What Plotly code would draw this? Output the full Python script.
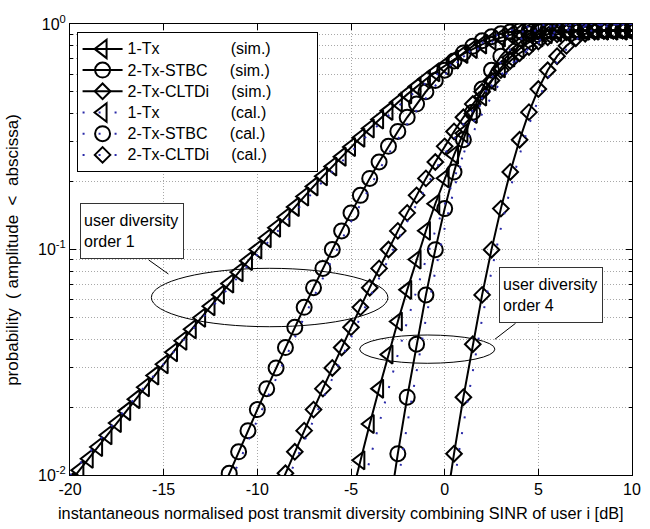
import plotly.graph_objects as go

# ---------------- data ----------------
# user diversity order 1, 1-Tx
x_o1_1tx = [-20.0, -19.5, -19.0, -18.5, -18.0, -17.5, -17.0, -16.5, -16.0, -15.5,
            -15.0, -14.5, -14.0, -13.5, -13.0, -12.5, -12.0, -11.5, -11.0, -10.5,
            -10.0, -9.5, -9.0, -8.5, -8.0, -7.5, -7.0, -6.5, -6.0, -5.5,
            -5.0, -4.5, -4.0, -3.5, -3.0, -2.5, -2.0, -1.5, -1.0, -0.5,
            0.0, 0.5, 1.0, 1.5, 2.0, 2.5, 3.0, 3.5, 4.0, 4.5,
            5.0, 5.5, 6.0, 6.5, 7.0, 7.5, 8.0, 8.5, 9.0, 9.5, 10.0]
sim_o1_1tx = [0.0093, 0.0105, 0.0118, 0.0133, 0.015, 0.017, 0.0192, 0.0217, 0.0245, 0.0276,
              0.031, 0.035, 0.0394, 0.0443, 0.0498, 0.056, 0.063, 0.0707, 0.0793, 0.089,
              0.1, 0.1121, 0.1248, 0.139, 0.1545, 0.1717, 0.1905, 0.2111, 0.2336, 0.2581,
              0.2847, 0.3133, 0.3441, 0.377, 0.4119, 0.4488, 0.4874, 0.5276, 0.5689, 0.611,
              0.6533, 0.6953, 0.7365, 0.7755, 0.812, 0.845, 0.872, 0.895, 0.915, 0.927,
              0.933, 0.935, 0.935, 0.935, 0.935, 0.935, 0.935, 0.935, 0.935, 0.935, 0.935]
cal_o1_1tx = [0.00995, 0.01116, 0.01251, 0.01403, 0.01572, 0.01762, 0.01975, 0.02214, 0.02481, 0.02779,
              0.03113, 0.03486, 0.03903, 0.04369, 0.04888, 0.05468, 0.06115, 0.06834, 0.07635, 0.08527,
              0.09516, 0.1061, 0.1183, 0.1318, 0.1466, 0.1629, 0.1809, 0.2006, 0.2222, 0.2456,
              0.2711, 0.2987, 0.3284, 0.3602, 0.3942, 0.4301, 0.4679, 0.5073, 0.5481, 0.5899,
              0.6321, 0.6744, 0.7161, 0.7566, 0.795, 0.831, 0.864, 0.8934, 0.9189, 0.9403,
              0.9577, 0.9712, 0.9813, 0.9885, 0.9933, 0.9964, 0.9982, 0.9992, 0.9997, 0.9999, 0.99995]

# user diversity order 1, 2-Tx-STBC
x_o1_stbc = [-12.5, -12.0, -11.5, -11.0, -10.5, -10.0, -9.5, -9.0, -8.5, -8.0,
             -7.5, -7.0, -6.5, -6.0, -5.5, -5.0, -4.5, -4.0, -3.5, -3.0,
             -2.5, -2.0, -1.5, -1.0, -0.5, 0.0, 0.5, 1.0, 1.5, 2.0,
             2.5, 3.0, 3.5, 4.0, 4.5, 5.0, 5.5, 6.0, 6.5, 7.0,
             7.5, 8.0, 8.5, 9.0, 9.5, 10.0]
sim_o1_stbc = [0.00655, 0.00817, 0.01018, 0.01267, 0.01573, 0.0195, 0.02415, 0.02984, 0.03675, 0.04518,
               0.05539, 0.06771, 0.08246, 0.1, 0.1209, 0.1453, 0.1738, 0.2067, 0.2443, 0.2867,
               0.3339, 0.3857, 0.4416, 0.5008, 0.5621, 0.6242, 0.6855, 0.7442, 0.7975, 0.843,
               0.878, 0.905, 0.922, 0.93, 0.934, 0.935, 0.935, 0.935, 0.935, 0.935,
               0.935, 0.935, 0.935, 0.935, 0.935, 0.935]
cal_o1_stbc = [0.00586, 0.00732, 0.009126, 0.01136, 0.01412, 0.01752, 0.0217, 0.02687, 0.03313, 0.04077,
               0.05006, 0.06129, 0.0748, 0.09091, 0.1101, 0.1327, 0.1591, 0.1898, 0.2251, 0.2651,
               0.31, 0.3597, 0.4137, 0.4714, 0.532, 0.594, 0.656, 0.7163, 0.7731, 0.8247,
               0.8699, 0.9077, 0.9378, 0.9604, 0.9763, 0.9869, 0.9933, 0.9969, 0.9987, 0.9995,
               0.9998, 0.99995, 0.99999, 1.0, 1.0, 1.0]

# user diversity order 1, 2-Tx-CLTDi
x_o1_cltd = [-9.5, -9.0, -8.5, -8.0, -7.5, -7.0, -6.5, -6.0, -5.5, -5.0,
             -4.5, -4.0, -3.5, -3.0, -2.5, -2.0, -1.5, -1.0, -0.5, 0.0,
             0.5, 1.0, 1.5, 2.0, 2.5, 3.0, 3.5, 4.0, 4.5, 5.0,
             5.5, 6.0, 6.5, 7.0, 7.5, 8.0, 8.5, 9.0, 9.5, 10.0]
sim_o1_cltd = [0.00655, 0.00817, 0.01018, 0.01267, 0.01573, 0.0195, 0.02415, 0.02984, 0.03675, 0.04518,
               0.05539, 0.06771, 0.08246, 0.1, 0.1209, 0.1453, 0.1738, 0.2067, 0.2443, 0.2867,
               0.3339, 0.3857, 0.4416, 0.5008, 0.5621, 0.6242, 0.6855, 0.742, 0.79, 0.836,
               0.872, 0.9, 0.918, 0.928, 0.932, 0.934, 0.935, 0.935, 0.935, 0.935]
cal_o1_cltd = [0.00586, 0.00732, 0.009126, 0.01136, 0.01412, 0.01752, 0.0217, 0.02687, 0.03313, 0.04077,
               0.05006, 0.06129, 0.0748, 0.09091, 0.1101, 0.1327, 0.1591, 0.1898, 0.2251, 0.2651,
               0.31, 0.3597, 0.4137, 0.4714, 0.532, 0.594, 0.656, 0.7163, 0.7731, 0.8247,
               0.8699, 0.9077, 0.9378, 0.9604, 0.9763, 0.9869, 0.9933, 0.9969, 0.9987, 0.9995]

# user diversity order 4, 1-Tx
x_o4_1tx = [-5.5, -5.0, -4.5, -4.0, -3.5, -3.0, -2.5, -2.0, -1.5, -1.0,
            -0.5, 0.0, 0.5, 1.0, 1.5, 2.0, 2.5, 3.0, 3.5, 4.0,
            4.5, 5.0, 5.5, 6.0, 6.5, 7.0, 7.5, 8.0, 8.5, 9.0, 9.5, 10.0]
sim_o4_1tx = [0.005402, 0.007961, 0.01163, 0.01683, 0.02415, 0.03422, 0.04793, 0.06623, 0.09025, 0.1211,
              0.1596, 0.2069, 0.263, 0.3277, 0.3995, 0.4769, 0.5573, 0.6371, 0.71, 0.775,
              0.83, 0.872, 0.902, 0.92, 0.929, 0.933, 0.935, 0.935, 0.935, 0.935, 0.935, 0.935]
cal_o4_1tx = [0.003638, 0.005402, 0.007961, 0.01163, 0.01683, 0.02415, 0.03422, 0.04793, 0.06623, 0.09025,
              0.1211, 0.1596, 0.2069, 0.263, 0.3277, 0.3995, 0.4769, 0.5573, 0.6371, 0.713,
              0.7817, 0.8412, 0.8897, 0.9273, 0.9548, 0.9735, 0.9857, 0.9928, 0.9966, 0.9986, 0.9995, 0.9998]

# user diversity order 4, 2-Tx-STBC
x_o4_stbc = [-3.5, -3.0, -2.5, -2.0, -1.5, -1.0, -0.5, 0.0, 0.5, 1.0,
             1.5, 2.0, 2.5, 3.0, 3.5, 4.0, 4.5, 5.0, 5.5, 6.0,
             6.5, 7.0, 7.5, 8.0, 8.5, 9.0, 9.5, 10.0]
sim_o4_stbc = [0.003562, 0.006756, 0.01243, 0.02213, 0.03803, 0.0629, 0.09983, 0.1518, 0.2208, 0.3067,
               0.4065, 0.5147, 0.6235, 0.72, 0.8, 0.865, 0.905, 0.924, 0.931, 0.934,
               0.935, 0.935, 0.935, 0.935, 0.935, 0.935, 0.935, 0.935]
cal_o4_stbc = [0.002567, 0.00494, 0.009236, 0.01673, 0.02928, 0.04938, 0.08008, 0.1245, 0.1852, 0.2633,
               0.3572, 0.4627, 0.5727, 0.6789, 0.7734, 0.8506, 0.9087, 0.9485, 0.9734, 0.9876,
               0.9948, 0.998, 0.9993, 0.9998, 1.0, 1.0, 1.0, 1.0]

# user diversity order 4, 2-Tx-CLTDi
x_o4_cltd = [-0.5, 0.0, 0.5, 1.0, 1.5, 2.0, 2.5, 3.0, 3.5, 4.0,
             4.5, 5.0, 5.5, 6.0, 6.5, 7.0, 7.5, 8.0, 8.5, 9.0, 9.5, 10.0]
sim_o4_cltd = [0.003562, 0.006756, 0.01243, 0.02213, 0.03803, 0.0629, 0.09983, 0.1518, 0.2208, 0.3067,
               0.4065, 0.5147, 0.6235, 0.72, 0.8, 0.865, 0.905, 0.924, 0.931, 0.934, 0.935, 0.935]
cal_o4_cltd = [0.002567, 0.00494, 0.009236, 0.01673, 0.02928, 0.04938, 0.08008, 0.1245, 0.1852, 0.2633,
               0.3572, 0.4627, 0.5727, 0.6789, 0.7734, 0.8506, 0.9087, 0.9485, 0.9734, 0.9876, 0.9948, 0.998]

x_ticks = [-20, -15, -10, -5, 0, 5, 10]
x_tick_text = ["-20", "-15", "-10", "-5", "0", "5", "10"]
y_ticks = [0.01, 0.1, 1]
y_tick_text = ["10<sup>-2</sup>", "10<sup>-1</sup>", "10<sup>0</sup>"]
y_minor = [0.02, 0.03, 0.04, 0.05, 0.06, 0.07, 0.08, 0.09,
           0.2, 0.3, 0.4, 0.5, 0.6, 0.7, 0.8, 0.9]

NB = "\u00a0"

def leg(label, gap, tag):
    return ('<span style="font-size:16px">' + label + NB * gap + tag + NB * 9 + "</span>")

legend_names = [
    leg("1-Tx", 16, "(sim.)"),
    leg("2-Tx-STBC", 5, "(sim.)"),
    leg("2-Tx-CLTDi", 5, "(sim.)"),
    leg("1-Tx", 16, "(cal.)"),
    leg("2-Tx-STBC", 5, "(cal.)"),
    leg("2-Tx-CLTDi", 5, "(cal.)"),
]

# ---------------- styles ----------------
FONT = "Liberation Sans, Arial, sans-serif"
BLUE = "#2a2aa8"
SYM = {
    "tx1": dict(symbol="triangle-left-open", size=16),
    "stbc": dict(symbol="circle-open", size=15),
    "cltd": dict(symbol="diamond-open", size=12),
}

def mk(kind):
    d = dict(SYM[kind])
    d.update(color="black", line=dict(width=2, color="black"))
    return d

fig = go.Figure()

sim_sets = [
    (x_o1_1tx, sim_o1_1tx, "tx1", 0), (x_o1_stbc, sim_o1_stbc, "stbc", 1),
    (x_o1_cltd, sim_o1_cltd, "cltd", 2), (x_o4_1tx, sim_o4_1tx, "tx1", None),
    (x_o4_stbc, sim_o4_stbc, "stbc", None), (x_o4_cltd, sim_o4_cltd, "cltd", None),
]
for xs, ys, kind, li in sim_sets:
    fig.add_trace(go.Scatter(
        x=xs, y=ys, mode="lines+markers",
        line=dict(color="black", width=2),
        marker=mk(kind),
        name=legend_names[li] if li is not None else kind,
        showlegend=li is not None,
    ))

cal_sets = [
    (x_o1_1tx, cal_o1_1tx), (x_o1_stbc, cal_o1_stbc), (x_o1_cltd, cal_o1_cltd),
    (x_o4_1tx, cal_o4_1tx), (x_o4_stbc, cal_o4_stbc), (x_o4_cltd, cal_o4_cltd),
]
for xs, ys in cal_sets:
    fig.add_trace(go.Scatter(
        x=xs, y=ys, mode="lines",
        line=dict(color=BLUE, width=2, dash="2px,14px"),
        showlegend=False,
    ))

# legend entries for the calculated curves (line + marker symbol)
for kind, li in [("tx1", 3), ("stbc", 4), ("cltd", 5)]:
    fig.add_trace(go.Scatter(
        x=[None], y=[None], mode="lines+markers",
        line=dict(color=BLUE, width=2, dash="2px,14px"),
        marker=mk(kind), name=legend_names[li], showlegend=True,
    ))

GRID = "#a8a8a8"
fig.update_layout(
    width=650, height=529,
    margin=dict(l=70, r=9, t=24, b=54),
    paper_bgcolor="white", plot_bgcolor="white",
    font=dict(family=FONT, size=16, color="black"),
    showlegend=True,
    legend=dict(
        x=0.0117, y=0.9816, xanchor="left", yanchor="top",
        bgcolor="white", bordercolor="black", borderwidth=1,
        font=dict(family=FONT, size=14, color="black"),
        itemwidth=40, tracegroupgap=0,
    ),
    xaxis=dict(
        range=[-20, 10], tickmode="array", tickvals=x_ticks, ticktext=x_tick_text,
        ticks="inside", ticklen=6, tickcolor="black",
        showline=True, linecolor="black", linewidth=1, mirror="ticks",
        showgrid=True, gridcolor=GRID, griddash="1px,2px", gridwidth=1,
        zeroline=False, tickfont=dict(size=16),
    ),
    yaxis=dict(
        type="log", range=[-2, 0], tickmode="array", tickvals=y_ticks, ticktext=y_tick_text,
        ticks="inside", ticklen=6, tickcolor="black",
        showline=True, linecolor="black", linewidth=1, mirror="ticks",
        showgrid=True, gridcolor=GRID, griddash="1px,2px", gridwidth=1,
        zeroline=False, tickfont=dict(size=16),
        minor=dict(tickmode="array", tickvals=y_minor, ticks="inside", ticklen=3,
                   tickcolor="black", showgrid=True, gridcolor=GRID,
                   griddash="1px,2px", gridwidth=1),
    ),
)

# axis titles
fig.add_annotation(xref="paper", yref="paper", x=0.4825, y=-0.0843,
                   text="instantaneous normalised post transmit diversity combining SINR of user i [dB]",
                   showarrow=False, xanchor="center", yanchor="middle", font=dict(size=16.3))
YT = NB * 2
fig.add_annotation(xref="paper", yref="paper", x=-0.1016, y=0.499,
                   text="probability" + YT + "(" + NB + "amplitude" + YT + "<" + YT + "abscissa)",
                   textangle=-90,
                   showarrow=False, xanchor="center", yanchor="middle", font=dict(size=17))

# text boxes
fig.add_annotation(xref="paper", yref="paper", x=0.0175, y=0.6024, xanchor="left", yanchor="top",
                   text="user diversity<br>order 1", align="left", valign="middle",
                   showarrow=False, bgcolor="white", bordercolor="#333333", borderwidth=1,
                   borderpad=3, width=96, height=48, font=dict(size=16))
fig.add_annotation(xref="paper", yref="paper", x=0.763, y=0.4619, xanchor="left", yanchor="top",
                   text="user diversity<br>order 4", align="left", valign="middle",
                   showarrow=False, bgcolor="white", bordercolor="#333333", borderwidth=1,
                   borderpad=3, width=96, height=48, font=dict(size=16))

# ellipses and connector lines
fig.add_shape(type="circle", xref="paper", yref="paper", x0=0.1448, x1=0.5657, y0=0.3288, y1=0.4583,
              line=dict(color="black", width=1))
fig.add_shape(type="circle", xref="paper", yref="paper", x0=0.5154, x1=0.7560, y0=0.2477, y1=0.3104,
              line=dict(color="black", width=1))
fig.add_shape(type="line", xref="paper", yref="paper", x0=0.1401, y0=0.4767, x1=0.1751, y1=0.4457,
              line=dict(color="black", width=1))
fig.add_shape(type="line", xref="paper", yref="paper", x0=0.7928, y0=0.3364, x1=0.7560, y1=0.3009,
              line=dict(color="black", width=1))

fig.write_html("out.html")
